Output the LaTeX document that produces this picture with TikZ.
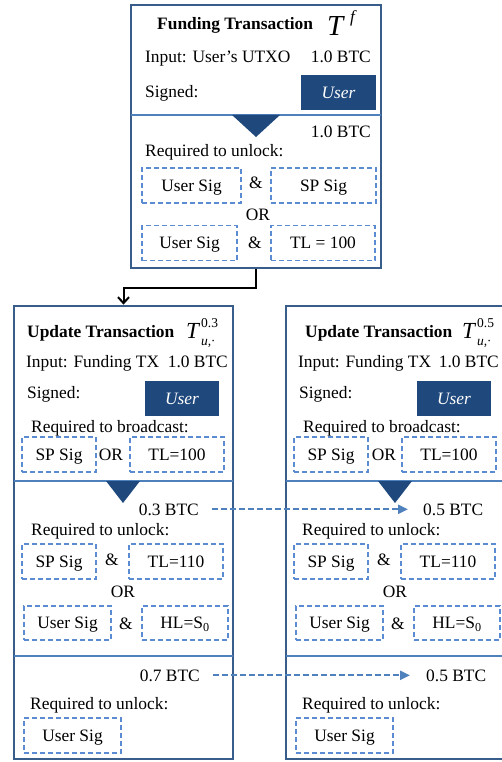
\documentclass[tikz,border=0pt]{standalone}
\usepackage{fontspec}
\setmainfont{Liberation Serif}
\usetikzlibrary{arrows.meta}
\definecolor{edgeblue}{HTML}{385D8A}
\definecolor{lineblue}{HTML}{4F81BD}
\definecolor{dashblue}{HTML}{5B8BD0}
\definecolor{navy}{HTML}{1F497D}
\begin{document}
\begin{tikzpicture}[x=1pt,y=-1pt,
  every node/.style={font=\fontsize{17.4}{20}\selectfont, inner sep=0pt},
  txbox/.style={draw=edgeblue, line width=2.8pt, rectangle, fill=white},
  divider/.style={draw=lineblue, line width=1.8pt},
  dbox/.style={draw=dashblue, line width=1.3pt, dash pattern=on 5pt off 3pt, text height=11.6pt, text depth=0pt},
  ubox/.style={fill=navy, text=white, font=\fontsize{17.4}{20}\selectfont\itshape, text height=11.6pt, text depth=0pt},
  conn/.style={draw=black, line width=2pt, -{Straight Barb[length=6pt,width=11pt]}},
  darrow/.style={draw=lineblue, line width=2.2pt, dash pattern=on 6pt off 3pt, -{Triangle[length=10pt,width=9pt]}},
  ttl/.style={font=\fontsize{17.4}{20}\selectfont\bfseries},
  bigT/.style={font=\fontsize{29}{30}\selectfont\itshape},
  midT/.style={font=\fontsize{23}{24}\selectfont\itshape},
  supsty/.style={font=\fontsize{13.5}{14}\selectfont},
  substy/.style={font=\fontsize{13.5}{14}\selectfont\itshape},
]
\useasboundingbox (0,0) rectangle (502,762);

% ---------- outer boxes ----------
\node[txbox, minimum width=250pt, minimum height=263pt] (fund) at (256,136.5) {};
\node[txbox, minimum width=219pt, minimum height=453pt] (upd1) at (123.5,532.5) {};
\node[txbox, minimum width=219pt, minimum height=453pt] (upd2) at (395.5,532.5) {};

% ---------- funding transaction ----------
\node[ttl, anchor=base west] (ftitle) at (157,30) {Funding Transaction};
\node[bigT, anchor=base west] (fT) at (327,36) {T};
\node[font=\fontsize{17}{18}\selectfont\itshape, anchor=base west] (fTsup) at (350,23) {f};
\node[anchor=base west] (fin) at (145,63) {Input: User’s UTXO};
\node[anchor=base east] (fbtc) at (371,63) {1.0 BTC};
\node[anchor=base west] (fsig) at (145,98) {Signed:};
\node[ubox, minimum width=75pt, minimum height=35pt] (fuser) at (338.5,92.5) {User};
\draw[divider] (131,115) -- (381,115);
\fill[navy] (232,115) -- (280,115) -- (256,137) -- cycle;
\node[anchor=base east] (fout) at (371,137.5) {1.0 BTC};
\node[anchor=base west] (freq) at (145,157) {Required to unlock:};
\node[dbox, minimum width=99pt, minimum height=35pt] (fus1) at (191.5,185.5) {User Sig};
\node (famp1) at (256,183) {\&};
\node[dbox, minimum width=105pt, minimum height=35pt] (fsp1) at (323.5,185.5) {SP Sig};
\node (for) at (258,215) {OR};
\node[dbox, minimum width=95pt, minimum height=35pt] (fus2) at (189.5,243) {User Sig};
\node (famp2) at (255,243) {\&};
\node[dbox, minimum width=104pt, minimum height=35pt] (ftl) at (323,243) {TL = 100};

% ---------- connector funding -> update ----------
\draw[conn] (fund.south) -- ++(0,19) -| (upd1.north);

% ---------- left update transaction ----------
\node[ttl, anchor=base west] (ltitle) at (27,337) {Update Transaction};
\node[midT, anchor=base west] (lT) at (186,338) {T};
\node[supsty, anchor=base west] (lTsup) at (201,327) {0.3};
\node[substy, anchor=base west] (lTsub) at (201,345) {u,·};
\node[anchor=base west] (lin) at (26,367) {Input: Funding TX};
\node[anchor=base east] (lbtc) at (228,367) {1.0 BTC};
\node[anchor=base west] (lsig) at (27,398) {Signed:};
\node[ubox, minimum width=74pt, minimum height=35pt] (luser) at (182,398.5) {User};
\node[anchor=base west] (lbro) at (31,432) {Required to broadcast:};
\node[dbox, minimum width=74pt, minimum height=35pt] (lbsp) at (59,454.5) {SP Sig};
\node (lbor) at (111,455) {OR};
\node[dbox, minimum width=94pt, minimum height=35pt] (lbtl) at (177,454.5) {TL=100};
\draw[divider] (14,481) -- (233,481);
\fill[navy] (106,481) -- (140,481) -- (123,503) -- cycle;
\node[anchor=base east] (lo1) at (199,515) {0.3 BTC};
\node[anchor=base west] (lreq1) at (31,535) {Required to unlock:};
\node[dbox, minimum width=74pt, minimum height=35pt] (lusp) at (59,561.5) {SP Sig};
\node (lamp1) at (112,560) {\&};
\node[dbox, minimum width=94pt, minimum height=35pt] (lutl) at (176,561.5) {TL=110};
\node (lor) at (123,592) {OR};
\node[dbox, minimum width=87pt, minimum height=34pt] (luus) at (67.5,623) {User Sig};
\node (lamp2) at (126,624) {\&};
\node[dbox, minimum width=86pt, minimum height=34pt] (luhl) at (185,623) {HL=S\textsubscript{0}};
\draw[divider] (14,656) -- (233,656);
\node[anchor=base east] (lo2) at (200,681) {0.7 BTC};
\node[anchor=base west] (lreq2) at (30,709) {Required to unlock:};
\node[dbox, minimum width=97pt, minimum height=35pt] (llus) at (72.5,735.5) {User Sig};

% ---------- right update transaction ----------
\node[ttl, anchor=base west] (rtitle) at (305,337) {Update Transaction};
\node[midT, anchor=base west] (rT) at (462,338) {T};
\node[supsty, anchor=base west] (rTsup) at (477,327) {0.5};
\node[substy, anchor=base west] (rTsub) at (477,345) {u,·};
\node[anchor=base west] (rin) at (298,367) {Input: Funding TX};
\node[anchor=base east] (rbtc) at (499,367) {1.0 BTC};
\node[anchor=base west] (rsig) at (299,398) {Signed:};
\node[ubox, minimum width=74pt, minimum height=35pt] (ruser) at (454,398.5) {User};
\node[anchor=base west] (rbro) at (303,432) {Required to broadcast:};
\node[dbox, minimum width=74pt, minimum height=35pt] (rbsp) at (331,454.5) {SP Sig};
\node (rbor) at (384,455) {OR};
\node[dbox, minimum width=94pt, minimum height=35pt] (rbtl) at (449,454.5) {TL=100};
\draw[divider] (286,481) -- (505,481);
\fill[navy] (378,481) -- (412,481) -- (395,503) -- cycle;
\node[anchor=base west] (ro1) at (423,515) {0.5 BTC};
\node[anchor=base west] (rreq1) at (302,535) {Required to unlock:};
\node[dbox, minimum width=74pt, minimum height=35pt] (rusp) at (331,561.5) {SP Sig};
\node (ramp1) at (384,560) {\&};
\node[dbox, minimum width=94pt, minimum height=35pt] (rutl) at (448,561.5) {TL=110};
\node (ror) at (395,592) {OR};
\node[dbox, minimum width=87pt, minimum height=34pt] (ruus) at (339.5,623) {User Sig};
\node (ramp2) at (398,624) {\&};
\node[dbox, minimum width=86pt, minimum height=34pt] (ruhl) at (457,623) {HL=S\textsubscript{0}};
\draw[divider] (286,656) -- (505,656);
\node[anchor=base west] (ro2) at (426,681) {0.5 BTC};
\node[anchor=base west] (rreq2) at (302,709) {Required to unlock:};
\node[dbox, minimum width=97pt, minimum height=35pt] (rlus) at (344.5,735.5) {User Sig};

% ---------- dashed output arrows ----------
\draw[darrow] ([xshift=13pt]lo1.east) -- ([xshift=-15pt]ro1.west);
\draw[darrow] ([xshift=13pt]lo2.east) -- ([xshift=-16pt]ro2.west);
\end{tikzpicture}
\end{document}
